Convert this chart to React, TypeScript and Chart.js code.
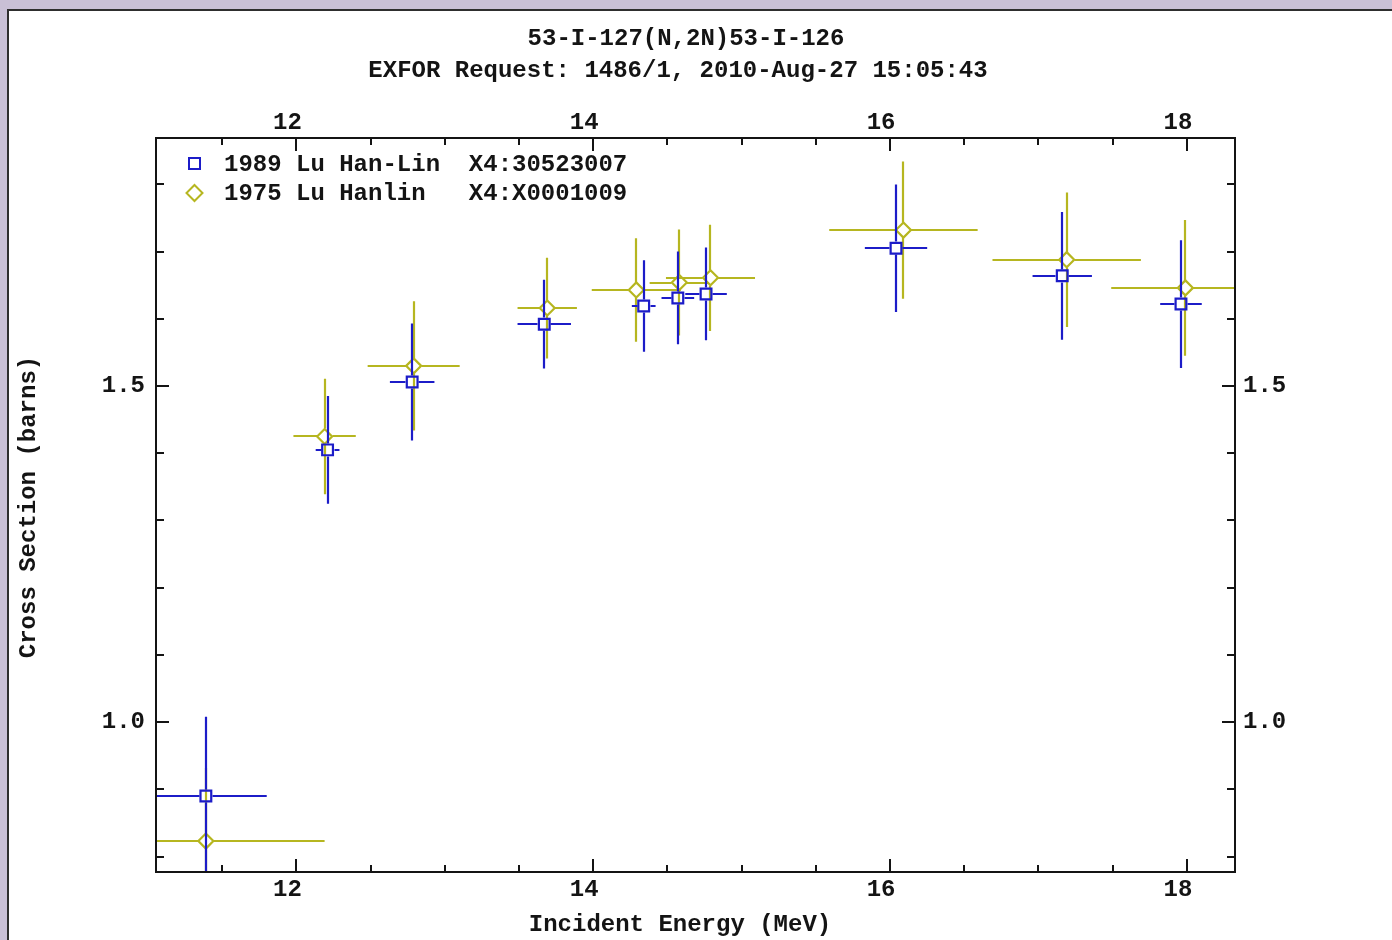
import React, { useEffect, useRef } from "react";
import { Chart, registerables } from "chart.js";

Chart.register(...registerables);

// ---- Data ----
// 1989 Lu Han-Lin  X4:30523007
const E_1989 = [11.39, 12.21, 12.78, 13.67, 14.34, 14.57, 14.76, 16.04, 17.16, 17.96];
const DE_1989 = [0.41, 0.08, 0.15, 0.18, 0.08, 0.11, 0.14, 0.21, 0.2, 0.14];
const XS_1989 = [0.89, 1.405, 1.506, 1.592, 1.619, 1.631, 1.637, 1.705, 1.664, 1.622];
const DXS_1989 = [0.118, 0.08, 0.087, 0.066, 0.068, 0.069, 0.069, 0.095, 0.095, 0.095];

// 1975 Lu Hanlin  X4:X0001009
const E_1975 = [11.39, 12.19, 12.79, 13.69, 14.29, 14.58, 14.79, 16.09, 17.19, 17.99];
const DE_1975 = [0.8, 0.21, 0.31, 0.2, 0.3, 0.2, 0.3, 0.5, 0.5, 0.5];
const XS_1975 = [0.823, 1.425, 1.53, 1.616, 1.643, 1.654, 1.661, 1.732, 1.688, 1.646];
const DXS_1975 = [0.109, 0.086, 0.096, 0.075, 0.077, 0.079, 0.079, 0.102, 0.1, 0.101];

const SERIES_LABELS = ["1989 Lu Han-Lin  X4:30523007", "1975 Lu Hanlin   X4:X0001009"];
const TITLE_LINES = ["53-I-127(N,2N)53-I-126", "EXFOR Request: 1486/1, 2010-Aug-27 15:05:43"];
const X_TITLE = "Incident Energy (MeV)";
const Y_TITLE = "Cross Section (barns)";

const X_TICKS = [12, 14, 16, 18];
const X_MINOR = [11.5, 12.5, 13, 13.5, 14.5, 15, 15.5, 16.5, 17, 17.5];
const Y_TICKS = [1.0, 1.5];
const Y_MINOR = [0.8, 0.9, 1.1, 1.2, 1.3, 1.4, 1.6, 1.7, 1.8];

const X_MIN = 11.054;
const X_MAX = 18.324;
const Y_MIN = 0.777;
const Y_MAX = 1.869;

const BLUE = "#1c1cc8";
const YELLOW = "#b6b620";
const INK = "#141414";
const FONT_FAMILY = '"Liberation Mono", "DejaVu Sans Mono", monospace';
const FONT = `bold 24px ${FONT_FAMILY}`;

const SERIES = [
  { e: E_1989, de: DE_1989, s: XS_1989, ds: DXS_1989, color: BLUE, gap: 6.5 },
  { e: E_1975, de: DE_1975, s: XS_1975, ds: DXS_1975, color: YELLOW, gap: 7.5 },
];

const backgroundPlugin = {
  id: "pageFrame",
  beforeDraw(chart: any) {
    const { ctx, width, height } = chart;
    ctx.save();
    ctx.fillStyle = "#c9c0d6";
    ctx.fillRect(0, 0, width, height);
    ctx.fillStyle = "#ffffff";
    ctx.fillRect(9, 11, width - 9, height - 11);
    ctx.fillStyle = "#2e2e2e";
    ctx.fillRect(7, 9, 2, height - 9);
    ctx.fillRect(7, 9, width - 7, 2);
    ctx.restore();
  },
};

const errorBarPlugin = {
  id: "errorBars",
  beforeDatasetDraw(chart: any, args: any) {
    const ser = SERIES[args.index];
    if (!ser) return;
    const { ctx, chartArea, scales } = chart;
    const xs = scales.x;
    const ys = scales.y;
    ctx.save();
    ctx.beginPath();
    ctx.rect(chartArea.left, chartArea.top, chartArea.right - chartArea.left, chartArea.bottom - chartArea.top);
    ctx.clip();
    ctx.strokeStyle = ser.color;
    ctx.lineWidth = 2.2;
    ser.e.forEach((e: number, k: number) => {
      const px = Math.round(xs.getPixelForValue(e));
      const py = Math.round(ys.getPixelForValue(ser.s[k]));
      const xl = xs.getPixelForValue(e - ser.de[k]);
      const xr = xs.getPixelForValue(e + ser.de[k]);
      const yt = ys.getPixelForValue(ser.s[k] + ser.ds[k]);
      const yb = ys.getPixelForValue(ser.s[k] - ser.ds[k]);
      const g = ser.gap;
      ctx.beginPath();
      if (px - g > xl) { ctx.moveTo(xl, py); ctx.lineTo(px - g, py); }
      if (px + g < xr) { ctx.moveTo(px + g, py); ctx.lineTo(xr, py); }
      if (py - g > yt) { ctx.moveTo(px, yt); ctx.lineTo(px, py - g); }
      if (py + g < yb) { ctx.moveTo(px, py + g); ctx.lineTo(px, yb); }
      ctx.stroke();
    });
    ctx.restore();
  },
};

const decorPlugin = {
  id: "decor",
  afterDraw(chart: any) {
    const { ctx, chartArea, scales } = chart;
    const { left, right, top, bottom } = chartArea;
    const xs = scales.x;
    const ys = scales.y;
    ctx.save();
    // frame
    ctx.strokeStyle = INK;
    ctx.lineWidth = 2;
    ctx.strokeRect(left, top, right - left, bottom - top);
    // ticks (inward, all four sides)
    ctx.beginPath();
    const xTick = (v: number, len: number) => {
      const p = Math.round(xs.getPixelForValue(v));
      ctx.moveTo(p, bottom); ctx.lineTo(p, bottom - len);
      ctx.moveTo(p, top); ctx.lineTo(p, top + len);
    };
    const yTick = (v: number, len: number) => {
      const p = Math.round(ys.getPixelForValue(v));
      ctx.moveTo(left, p); ctx.lineTo(left + len, p);
      ctx.moveTo(right, p); ctx.lineTo(right - len, p);
    };
    X_TICKS.forEach((v) => xTick(v, 13));
    X_MINOR.forEach((v) => xTick(v, 7));
    Y_TICKS.forEach((v) => yTick(v, 13));
    Y_MINOR.forEach((v) => yTick(v, 8));
    ctx.stroke();

    // titles
    ctx.fillStyle = INK;
    ctx.font = FONT;
    ctx.textBaseline = "alphabetic";
    ctx.textAlign = "center";
    ctx.fillText(TITLE_LINES[0], 686, 45);
    ctx.fillText(TITLE_LINES[1], 678, 77);
    ctx.fillText(X_TITLE, 680, 931);
    ctx.save();
    ctx.translate(35, 507);
    ctx.rotate(-Math.PI / 2);
    ctx.fillText(Y_TITLE, 0, 0);
    ctx.restore();

    // legend
    ctx.textAlign = "left";
    ctx.fillText(SERIES_LABELS[0], 224, 171);
    ctx.fillText(SERIES_LABELS[1], 224, 200);
    ctx.lineWidth = 2;
    ctx.strokeStyle = BLUE;
    ctx.strokeRect(189, 158, 11, 11);
    ctx.strokeStyle = YELLOW;
    ctx.beginPath();
    ctx.moveTo(194.5, 185);
    ctx.lineTo(202.5, 193);
    ctx.lineTo(194.5, 201);
    ctx.lineTo(186.5, 193);
    ctx.closePath();
    ctx.stroke();
    ctx.restore();
  },
};

const tickFont = { family: FONT_FAMILY, size: 24, weight: "bold" as const };

export default function App() {
  const canvasRef = useRef<HTMLCanvasElement | null>(null);

  useEffect(() => {
    const canvas = canvasRef.current;
    if (!canvas) return;
    const setTicks = (vals: number[]) => (scale: any) => {
      scale.ticks = vals.map((v) => ({ value: v }));
    };
    const chart = new Chart(canvas, {
      type: "scatter",
      data: {
        datasets: [
          {
            label: SERIES_LABELS[0],
            data: E_1989.map((x, i) => ({ x, y: XS_1989[i] })),
            pointStyle: "rect",
            pointRadius: 7.6,
            pointHoverRadius: 7.6,
            borderColor: BLUE,
            backgroundColor: "rgba(0,0,0,0)",
            pointBorderWidth: 2.2,
            xAxisID: "x",
            yAxisID: "y",
          },
          {
            label: SERIES_LABELS[1],
            data: E_1975.map((x, i) => ({ x, y: XS_1975[i] })),
            pointStyle: "rectRot",
            pointRadius: 7.5,
            pointHoverRadius: 7.5,
            borderColor: YELLOW,
            backgroundColor: "rgba(0,0,0,0)",
            pointBorderWidth: 2.2,
            xAxisID: "x",
            yAxisID: "y",
          },
        ],
      },
      options: {
        animation: false,
        responsive: false,
        maintainAspectRatio: false,
        events: [],
        layout: { padding: 0 },
        plugins: { legend: { display: false }, title: { display: false }, tooltip: { enabled: false } },
        scales: {
          x: {
            type: "linear",
            position: "bottom",
            min: X_MIN,
            max: X_MAX,
            grid: { display: false, drawTicks: false },
            border: { display: false },
            afterBuildTicks: setTicks(X_TICKS),
            afterFit: (s: any) => { s.height = 68; },
            ticks: { color: INK, font: tickFont, padding: 4, labelOffset: -9, maxRotation: 0, autoSkip: false, callback: (v: any) => String(v) },
          },
          x2: {
            type: "linear",
            position: "top",
            min: X_MIN,
            max: X_MAX,
            grid: { display: false, drawTicks: false },
            border: { display: false },
            afterBuildTicks: setTicks(X_TICKS),
            afterFit: (s: any) => { s.height = 138; },
            ticks: { color: INK, font: tickFont, padding: 1, labelOffset: -9, maxRotation: 0, autoSkip: false, callback: (v: any) => String(v) },
          },
          y: {
            type: "linear",
            position: "left",
            min: Y_MIN,
            max: Y_MAX,
            grid: { display: false, drawTicks: false },
            border: { display: false },
            afterBuildTicks: setTicks(Y_TICKS),
            afterFit: (s: any) => { s.width = 156; },
            ticks: { color: INK, font: tickFont, padding: 11, autoSkip: false, callback: (v: any) => Number(v).toFixed(1) },
          },
          y2: {
            type: "linear",
            position: "right",
            min: Y_MIN,
            max: Y_MAX,
            grid: { display: false, drawTicks: false },
            border: { display: false },
            afterBuildTicks: setTicks(Y_TICKS),
            afterFit: (s: any) => { s.width = 157; },
            ticks: { color: INK, font: tickFont, padding: 8, autoSkip: false, callback: (v: any) => Number(v).toFixed(1) },
          },
        },
      },
      plugins: [backgroundPlugin, errorBarPlugin, decorPlugin],
    });
    return () => chart.destroy();
  }, []);

  return (
    <div style={{ position: "absolute", left: 0, top: 0, width: 1392, height: 940 }}>
      <canvas ref={canvasRef} width={1392} height={940} style={{ display: "block", width: 1392, height: 940 }} />
    </div>
  );
}
